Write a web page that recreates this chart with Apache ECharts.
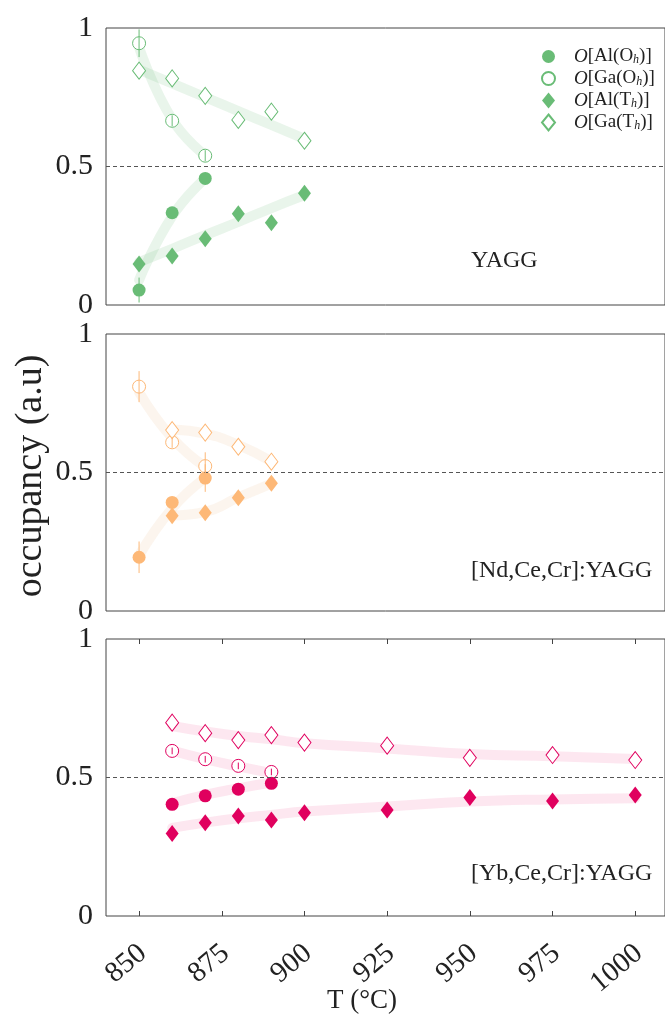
<!DOCTYPE html>
<html>
<head>
<meta charset="utf-8">
<script src="https://cdn.jsdelivr.net/npm/echarts@6/dist/echarts.min.js"></script>
<style>
html,body{margin:0;padding:0;background:#fff;}
#chart{width:665px;height:1026px;}
</style>
</head>
<body>
<div id="chart"></div>
<script>
// ---------- data ----------
const xTicks = [850, 875, 900, 925, 950, 975, 1000];
const yTicks = [0, 0.5, 1];
const legendNames = ['O[Al(Oh)]', 'O[Ga(Oh)]', 'O[Al(Th)]', 'O[Ga(Th)]'];
const panelLabels = ['YAGG', '[Nd,Ce,Cr]:YAGG', '[Yb,Ce,Cr]:YAGG'];

// YAGG
const yaggOhT = [850, 860, 870];
const yaggThT = [850, 860, 870, 880, 890, 900];
const yaggAlOh = [0.054, 0.333, 0.457];
const yaggGaOh = [0.945, 0.665, 0.539];
const yaggAlTh = [0.148, 0.177, 0.239, 0.329, 0.297, 0.403];
const yaggGaTh = [0.846, 0.818, 0.755, 0.668, 0.698, 0.593];
const yaggAlOhErr = [0.045, 0, 0];
const yaggGaOhErr = [0.05, 0.02, 0.02];
const yaggAlOhFit = [0.09, 0.32, 0.457];
const yaggGaOhFit = [0.93, 0.67, 0.54];
const yaggAlThFit = [0.155, 0.203, 0.252, 0.300, 0.350, 0.397];
const yaggGaThFit = [0.850, 0.800, 0.750, 0.700, 0.650, 0.600];

// [Nd,Ce,Cr]:YAGG
const ndOhT = [850, 860, 870];
const ndThT = [860, 870, 880, 890];
const ndAlOh = [0.194, 0.392, 0.480];
const ndGaOh = [0.810, 0.609, 0.523];
const ndAlTh = [0.344, 0.355, 0.409, 0.461];
const ndGaTh = [0.653, 0.644, 0.593, 0.539];
const ndAlOhErr = [0.057, 0, 0.05];
const ndGaOhErr = [0.056, 0.02, 0.05];
const ndAlOhFit = [0.20, 0.37, 0.48];
const ndGaOhFit = [0.79, 0.625, 0.52];
const ndAlThFit = [0.345, 0.358, 0.410, 0.460];
const ndGaThFit = [0.655, 0.640, 0.600, 0.540];

// [Yb,Ce,Cr]:YAGG
const ybOhT = [860, 870, 880, 890];
const ybThT = [860, 870, 880, 890, 900, 925, 950, 975, 1000];
const ybAlOh = [0.403, 0.434, 0.458, 0.479];
const ybGaOh = [0.596, 0.566, 0.542, 0.520];
const ybAlTh = [0.298, 0.337, 0.361, 0.347, 0.373, 0.383, 0.428, 0.415, 0.437];
const ybGaTh = [0.698, 0.660, 0.635, 0.653, 0.626, 0.615, 0.571, 0.581, 0.563];
const ybAlOhErr = [0, 0, 0, 0];
const ybGaOhErr = [0.012, 0.012, 0.012, 0.012];
const ybAlOhFit = [0.407, 0.437, 0.461, 0.482];
const ybGaOhFit = [0.597, 0.566, 0.540, 0.516];
const ybAlThFit = [0.318, 0.337, 0.353, 0.365, 0.377, 0.395, 0.413, 0.421, 0.425];
const ybGaThFit = [0.686, 0.666, 0.650, 0.638, 0.624, 0.605, 0.585, 0.577, 0.567];

// ---------- styling ----------
const FONT = 'Liberation Serif';
const panels = [
  {top: 28, color: '#69bc76', band: 'rgba(105,188,118,0.15)', label: panelLabels[0], labelY: 262,
   ohT: yaggOhT, thT: yaggThT, alOh: yaggAlOh, gaOh: yaggGaOh, alTh: yaggAlTh, gaTh: yaggGaTh,
   alOhErr: yaggAlOhErr, gaOhErr: yaggGaOhErr, alOhFit: yaggAlOhFit, gaOhFit: yaggGaOhFit, alThFit: yaggAlThFit, gaThFit: yaggGaThFit},
  {top: 334, color: '#fdb877', band: 'rgba(240,200,160,0.18)', label: panelLabels[1], labelY: 572,
   ohT: ndOhT, thT: ndThT, alOh: ndAlOh, gaOh: ndGaOh, alTh: ndAlTh, gaTh: ndGaTh,
   alOhErr: ndAlOhErr, gaOhErr: ndGaOhErr, alOhFit: ndAlOhFit, gaOhFit: ndGaOhFit, alThFit: ndAlThFit, gaThFit: ndGaThFit},
  {top: 639, color: '#e0005e', band: 'rgba(240,60,130,0.12)', label: panelLabels[2], labelY: 875,
   ohT: ybOhT, thT: ybThT, alOh: ybAlOh, gaOh: ybGaOh, alTh: ybAlTh, gaTh: ybGaTh,
   alOhErr: ybAlOhErr, gaOhErr: ybGaOhErr, alOhFit: ybAlOhFit, gaOhFit: ybGaOhFit, alThFit: ybAlThFit, gaThFit: ybGaThFit}
];
const PH = 277;

const zip = (xs, ys) => xs.map((x, i) => [x, ys[i]]);
const errData = (xs, ys, es) => xs.map((x, i) => [x, ys[i] - es[i], ys[i] + es[i]]).filter((d, i) => es[i] > 0);

const grids = [], xAxes = [], yAxes = [], series = [];
panels.forEach((p, k) => {
  grids.push({left: 106, right: 0, top: p.top, height: PH, show: true, borderColor: '#444', borderWidth: 1, backgroundColor: 'transparent'});
  const isBottom = k === 2;
  xAxes.push({
    type: 'value', gridIndex: k, min: 840, max: 1009, position: 'bottom',
    axisLine: {show: false}, splitLine: {show: false},
    axisTick: {show: isBottom, inside: true, length: 5, lineStyle: {color: '#444'}, customValues: xTicks},
    axisLabel: {show: isBottom, customValues: xTicks, rotate: 40, margin: 37, padding: [0, -5, 0, 0],
      formatter: v => String(v), fontSize: 29, fontFamily: FONT, color: '#222'}
  });
  yAxes.push({
    type: 'value', gridIndex: k, min: 0, max: 1, interval: 0.5,
    axisLine: {show: false}, splitLine: {show: false}, axisTick: {show: false},
    axisLabel: {fontSize: 30, fontFamily: FONT, color: '#222', margin: 13}
  });
  const xi = xAxes.length - 1, yi = yAxes.length - 1;
  const pre = k === 0 ? '' : (k === 1 ? 'Nd ' : 'Yb ');
  // fit bands
  [[p.ohT, p.alOhFit], [p.ohT, p.gaOhFit], [p.thT, p.alThFit], [p.thT, p.gaThFit]].forEach((f, j) => {
    series.push({type: 'line', name: pre + 'fit' + j, xAxisIndex: xi, yAxisIndex: yi, data: zip(f[0], f[1]),
      smooth: 0.5, showSymbol: false, symbol: 'none', silent: true, z: 1,
      lineStyle: {color: p.band, width: 10, cap: 'round'},
      markLine: j === 0 ? {silent: true, symbol: 'none', label: {show: false},
        lineStyle: {color: '#555', type: [4, 3], width: 1}, data: [{yAxis: 0.5}]} : undefined
    });
  });
  // error bars
  [[p.ohT, p.alOh, p.alOhErr], [p.ohT, p.gaOh, p.gaOhErr]].forEach((e, j) => {
    series.push({type: 'custom', name: pre + 'err' + j, xAxisIndex: xi, yAxisIndex: yi, z: 5, silent: true,
      data: errData(e[0], e[1], e[2]), encode: {x: 0, y: [1, 2]},
      renderItem: (params, api) => {
        const a = api.coord([api.value(0), api.value(1)]);
        const b = api.coord([api.value(0), api.value(2)]);
        return {type: 'line', shape: {x1: a[0], y1: a[1], x2: b[0], y2: b[1]}, style: {stroke: p.color, lineWidth: 1}};
      }
    });
  });
  // markers
  const mk = (name, xs, ys, symbol, size, filled) => ({
    type: 'scatter', name: (k === 0 ? '' : pre) + name, xAxisIndex: xi, yAxisIndex: yi, data: zip(xs, ys),
    symbol: symbol, symbolSize: size, z: filled ? 4 : 3,
    itemStyle: filled ? {color: p.color, opacity: 1} : {color: '#fff', borderColor: p.color, borderWidth: 1, opacity: 1}
  });
  series.push(mk(legendNames[0], p.ohT, p.alOh, 'circle', 13, true));
  series.push(mk(legendNames[1], p.ohT, p.gaOh, 'circle', 13, false));
  series.push(mk(legendNames[2], p.thT, p.alTh, 'diamond', [13, 17], true));
  series.push(mk(legendNames[3], p.thT, p.gaTh, 'diamond', [13, 17], false));
});

// bottom panel: top ticks
xAxes.push({
  type: 'value', gridIndex: 2, min: 840, max: 1009, position: 'top',
  axisLine: {show: false}, splitLine: {show: false},
  axisTick: {show: true, inside: true, length: 5, lineStyle: {color: '#444'}, customValues: xTicks},
  axisLabel: {show: false}
});

const legendFmt = (name) => {
  const m = name.match(/^O\[(\w+)\((\w)h\)\]$/);
  return '{g|}{i|O}{n|[' + m[1] + '(' + m[2] + '}{s|h}{n|)]}';
};

const graphics = panels.map(p => ({
  type: 'text', left: 471, top: p.labelY - 13,
  style: {text: p.label, font: '24px "' + FONT + '"', fill: '#222'}
}));
graphics.push({
  type: 'text', x: 31, y: 476, rotation: Math.PI / 2,
  style: {text: 'occupancy (a.u)', font: '38px "' + FONT + '"', fill: '#222', align: 'center', verticalAlign: 'middle'}
});
graphics.push({
  type: 'text', x: 362, y: 1001,
  style: {text: 'T (°C)', font: '27px "' + FONT + '"', fill: '#222', align: 'center', verticalAlign: 'middle'}
});

const chart = echarts.init(document.getElementById('chart'), null, {renderer: 'canvas'});
chart.setOption({
  animation: false,
  backgroundColor: '#fff',
  grid: grids, xAxis: xAxes, yAxis: yAxes, series: series,
  legend: {
    data: legendNames, orient: 'vertical', left: 536, top: 42,
    itemWidth: 13, itemHeight: 16, itemGap: 3,
    formatter: legendFmt, selectedMode: false,
    textStyle: {fontFamily: FONT, fontSize: 19, color: '#222', lineHeight: 19,
      rich: {
        g: {width: 14, lineHeight: 19},
        i: {fontFamily: FONT, fontSize: 19, fontStyle: 'italic', color: '#222', lineHeight: 19},
        n: {fontFamily: FONT, fontSize: 19, color: '#222', lineHeight: 19},
        s: {fontFamily: FONT, fontSize: 12, fontStyle: 'italic', color: '#222', verticalAlign: 'bottom', lineHeight: 19}
      }}
  },
  graphic: graphics
});
</script>
</body>
</html>
